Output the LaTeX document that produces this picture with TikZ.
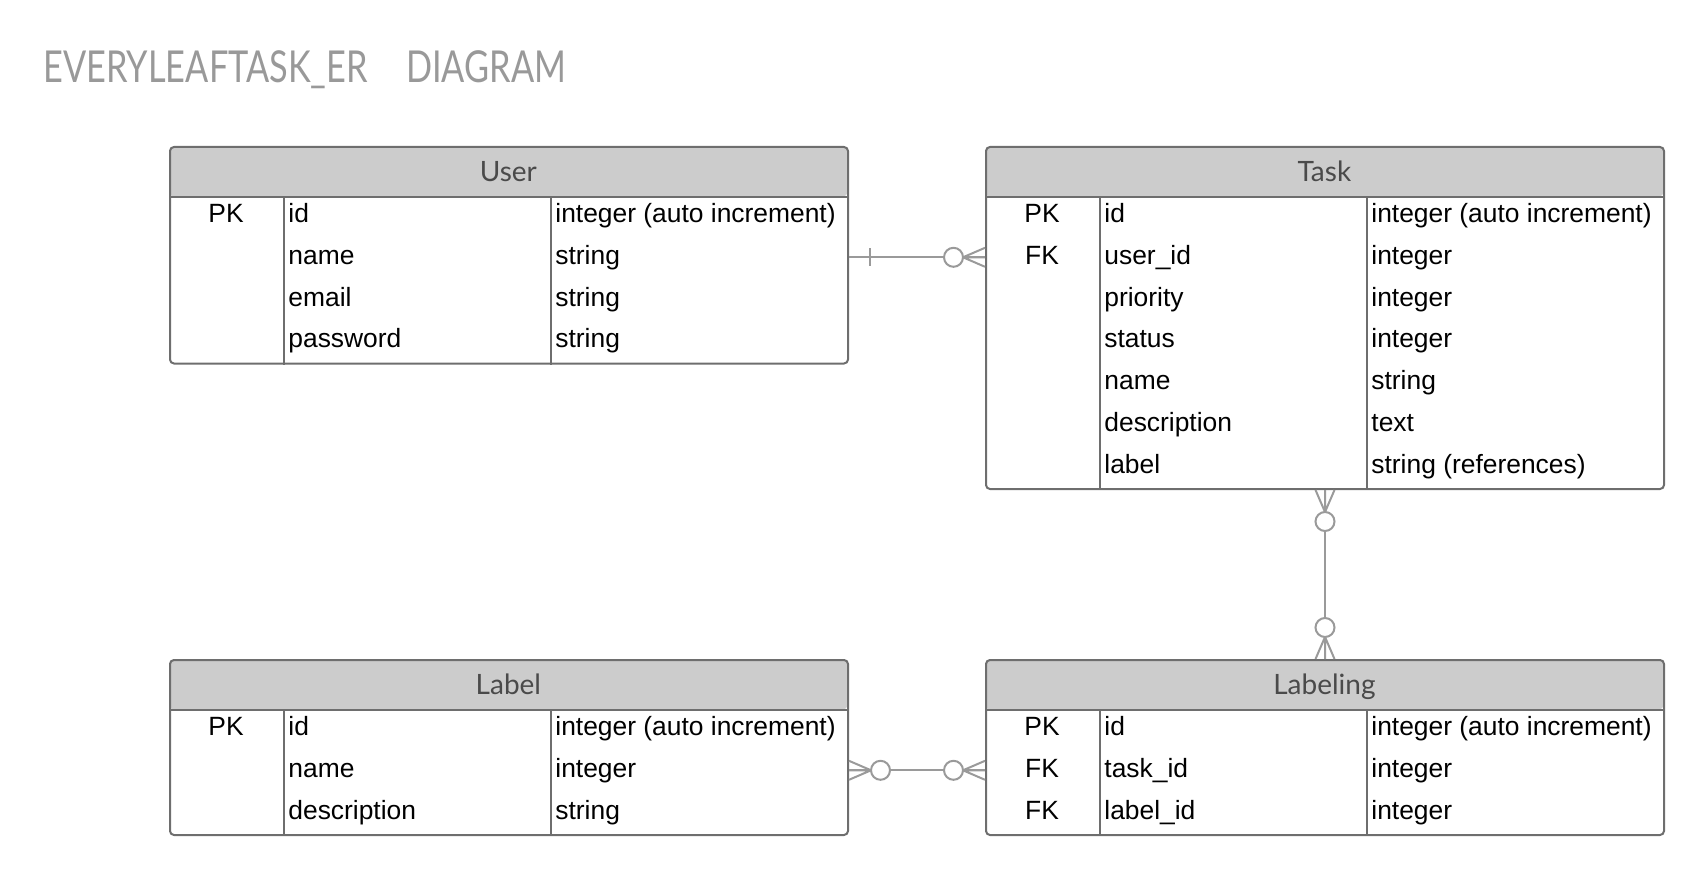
\documentclass[tikz,border=0pt]{standalone}
\usepackage{fontspec}
\setmainfont{Liberation Sans}
\newfontfamily\headfont{Lato}
\newfontfamily\titlefont{Lato}[FakeStretch=0.78]
\usetikzlibrary{calc}

\definecolor{framegray}{HTML}{6E6E6E}
\definecolor{relgray}{HTML}{9A9A9A}
\definecolor{hdrfill}{HTML}{CCCCCC}
\definecolor{hdrtext}{HTML}{4A4A4A}
\definecolor{titlegray}{HTML}{999999}

\tikzset{
  tblhead/.style={fill=hdrfill, rounded corners=2pt, inner sep=0pt, anchor=north west,
    minimum width=339pt, minimum height=25pt, text height=10pt, text depth=0pt,
    font=\headfont\fontsize{14}{16}\selectfont, text=hdrtext},
  tblbox/.style={draw=framegray, line width=1pt, rounded corners=2pt, inner sep=0pt,
    anchor=north west, minimum width=339pt},
  tblline/.style={draw=framegray, line width=1pt},
  keytxt/.style={anchor=base, inner sep=0pt, font=\fontsize{13.2}{15}\selectfont},
  celltxt/.style={anchor=base west, inner sep=0pt, font=\fontsize{13.2}{15}\selectfont},
  rel/.style={draw=relgray, line width=1pt},
  pics/zeromany/.style={code={
    \draw[rel] (0,-9.5) -- (-22,0) -- (0,9.5) (0,0) -- (-22,0);
    \draw[rel, fill=white] (-31.5,0) circle[radius=4.75pt];
  }},
}

\begin{document}
\begin{tikzpicture}[x=0.5pt, y=-0.5pt]
  \useasboundingbox (0,0) rectangle (1703,877);

  % Title
  \node[anchor=base west, inner sep=0pt, text=titlegray,
    font=\titlefont\fontsize{22}{26}\selectfont] (title) at (43,83)
    {EVERYLEAFTASK\_ER\hspace{19pt}DIAGRAM};

  % Tables: header first, frame on top
  \node[tblhead] (user-h) at (169,146) {User};
  \node[tblbox, minimum height=108.25pt] (user) at (169,146) {};
  \node[tblhead] (task-h) at (985,146) {Task};
  \node[tblbox, minimum height=171pt] (task) at (985,146) {};
  \node[tblhead] (label-h) at (169,659) {Label};
  \node[tblbox, minimum height=87.5pt] (label) at (169,659) {};
  \node[tblhead] (labeling-h) at (985,659) {Labeling};
  \node[tblbox, minimum height=87.5pt] (labeling) at (985,659) {};

  % header rule and column rules
  \foreach \t in {user,task,label,labeling} {
    \draw[tblline] (\t-h.south west) -- (\t-h.south east);
    \draw[tblline] ([xshift=57.25pt]\t-h.south west) -- ([xshift=57.25pt]\t.south west);
    \draw[tblline] ([xshift=190.85pt]\t-h.south west) -- ([xshift=190.85pt]\t.south west);
  }

  % User rows
  \foreach \k/\f/\y [count=\i] in {PK/id/integer (auto increment), /name/string,
      /email/string, /password/string} {
    \coordinate (user-r\i) at ($(user.north west)+(0,{69.5+(\i-1)*41.8})$);
    \node[keytxt] (user-k\i) at ($(user-r\i)+(57,7)$) {\k};
    \node[celltxt] (user-f\i) at ($(user-r\i)+(119,7)$) {\f};
    \node[celltxt] (user-y\i) at ($(user-r\i)+(386,7)$) {\y};
  }

  % Task rows
  \foreach \k/\f/\y [count=\i] in {PK/id/integer (auto increment), FK/user\_id/integer,
      /priority/integer, /status/integer, /name/string, /description/text,
      /label/string (references)} {
    \coordinate (task-r\i) at ($(task.north west)+(0,{69.5+(\i-1)*41.8})$);
    \node[keytxt] (task-k\i) at ($(task-r\i)+(57,7)$) {\k};
    \node[celltxt] (task-f\i) at ($(task-r\i)+(119,7)$) {\f};
    \node[celltxt] (task-y\i) at ($(task-r\i)+(386,7)$) {\y};
  }

  % Label rows
  \foreach \k/\f/\y [count=\i] in {PK/id/integer (auto increment), /name/integer,
      /description/string} {
    \coordinate (label-r\i) at ($(label.north west)+(0,{69.5+(\i-1)*41.8})$);
    \node[keytxt] (label-k\i) at ($(label-r\i)+(57,7)$) {\k};
    \node[celltxt] (label-f\i) at ($(label-r\i)+(119,7)$) {\f};
    \node[celltxt] (label-y\i) at ($(label-r\i)+(386,7)$) {\y};
  }

  % Labeling rows
  \foreach \k/\f/\y [count=\i] in {PK/id/integer (auto increment), FK/task\_id/integer,
      FK/label\_id/integer} {
    \coordinate (labeling-r\i) at ($(labeling.north west)+(0,{69.5+(\i-1)*41.8})$);
    \node[keytxt] (labeling-k\i) at ($(labeling-r\i)+(57,7)$) {\k};
    \node[celltxt] (labeling-f\i) at ($(labeling-r\i)+(119,7)$) {\f};
    \node[celltxt] (labeling-y\i) at ($(labeling-r\i)+(386,7)$) {\y};
  }

  % User 1 -- 0..n Task
  \coordinate (ut-a) at (user.east |- user-r2);
  \coordinate (ut-b) at (task.west |- task-r2);
  \draw[rel] (ut-a) -- (ut-b);
  \draw[rel] ([xshift=10.5pt]ut-a) ++(0,-9) -- ++(0,18);
  \pic at (ut-b) {zeromany};

  % Task 0..n -- 0..n Labeling
  \draw[rel] (task.south) -- (labeling.north);
  \pic[rotate=90] at (task.south) {zeromany};
  \pic[rotate=-90] at (labeling.north) {zeromany};

  % Label 0..n -- 0..n Labeling
  \coordinate (ll-a) at (label.east |- label-r2);
  \coordinate (ll-b) at (labeling.west |- labeling-r2);
  \draw[rel] (ll-a) -- (ll-b);
  \pic[rotate=180] at (ll-a) {zeromany};
  \pic at (ll-b) {zeromany};
\end{tikzpicture}
\end{document}
